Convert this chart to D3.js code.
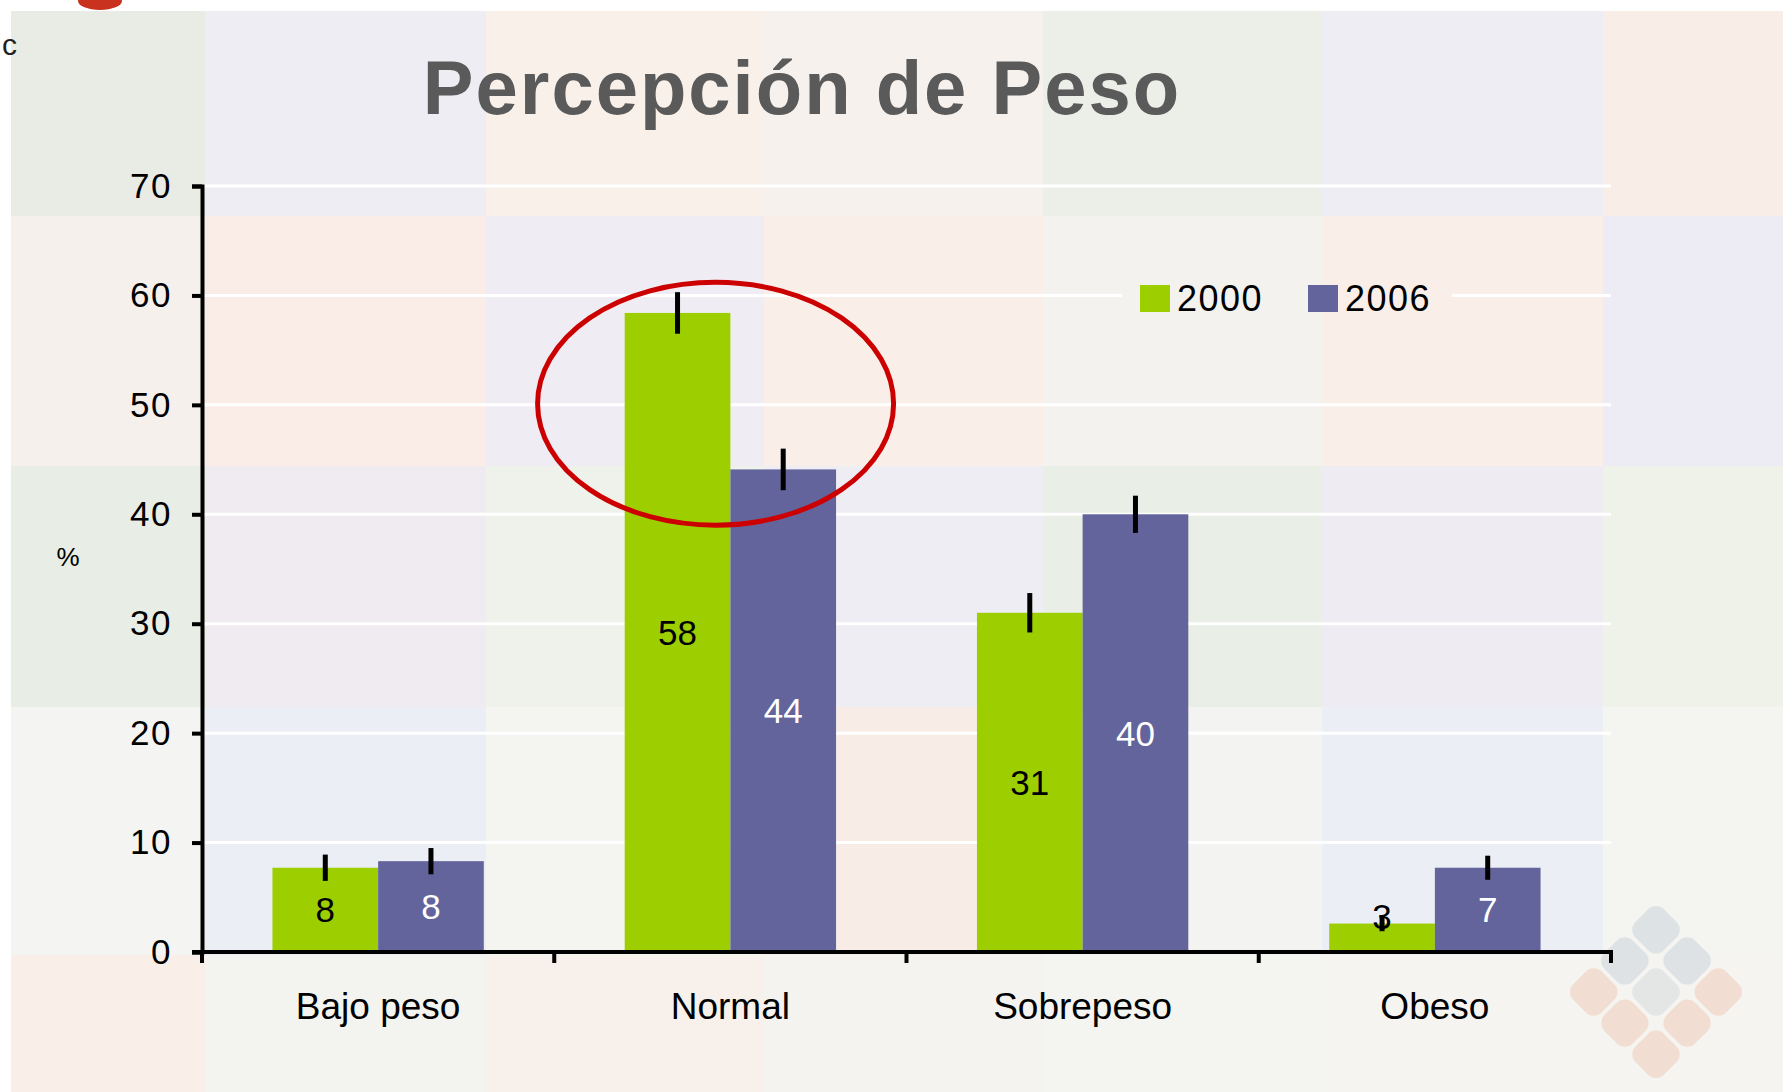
<!DOCTYPE html>
<html>
<head>
<meta charset="utf-8">
<script src="https://cdn.jsdelivr.net/npm/d3@7"></script>
<style>
  html, body { margin: 0; padding: 0; background: #ffffff; }
  svg { display: block; font-family: "Liberation Sans", Arial, sans-serif; }
</style>
</head>
<body>
<div id="chart"></div>
<script>
// data
var categories = ["Bajo peso", "Normal", "Sobrepeso", "Obeso"];
var years = ["2000", "2006"];
var values2000 = [7.7, 58.4, 31.0, 2.6];
var values2006 = [8.3, 44.1, 40.0, 7.7];
var errors2000 = [1.2, 1.9, 1.8, 0.7];
var errors2006 = [1.2, 1.9, 1.7, 1.1];
var labels2000 = ["8", "58", "31", "3"];
var labels2006 = ["8", "44", "40", "7"];
var yTicks = [0, 10, 20, 30, 40, 50, 60, 70];

// faded photo mosaic behind the slide (rows x columns)
var tileColors = [
  ["#e8ece5", "#eeedf4", "#f9f0e9", "#f6f1ec", "#ebefe8", "#eeedf4", "#f9eee7"],
  ["#f6f0ed", "#faede7", "#efedf3", "#faeee8", "#f4f2ef", "#faeee8", "#edecf4"],
  ["#e8ede5", "#f0ebf0", "#eff2ea", "#eeedf3", "#e9eee6", "#eeebf2", "#eff2e8"],
  ["#f4f4f2", "#ebeef4", "#f4f4f1", "#f8ede6", "#f3f3f1", "#ebeef4", "#f4f4f0"],
  ["#f9efe8", "#f3f3ef", "#f8f0ea", "#f4f3ef", "#f4f4f1", "#f5f4f0", "#f5f4f0"]
];

var width = 1783, height = 1092;
var plot = { left: 202, right: 1611, top: 186, bottom: 952 };

var svg = d3.select("#chart").append("svg")
  .attr("width", width)
  .attr("height", height);

// background tiles
var colEdges = [11, 205, 486, 764, 1043, 1322, 1603, 1783];
var rowEdges = [11, 216, 466, 707, 955, 1092];
tileColors.forEach(function(row, r) {
  row.forEach(function(c, k) {
    svg.append("rect")
      .attr("x", colEdges[k]).attr("y", rowEdges[r])
      .attr("width", colEdges[k + 1] - colEdges[k])
      .attr("height", rowEdges[r + 1] - rowEdges[r])
      .attr("fill", c);
  });
});

// bits of the slide template in the top-left corner
svg.append("ellipse").attr("cx", 100).attr("cy", 1).attr("rx", 22).attr("ry", 9).attr("fill", "#c8321e");
svg.append("text").attr("x", 2).attr("y", 55).attr("font-size", 30).attr("fill", "#222").text("c");

// faded logo bottom right
var logo = svg.append("g").attr("transform", "translate(1656,992) rotate(45)").attr("opacity", 0.22);
[[-1, -1, "#8fa6bf"], [0, -1, "#8fa6bf"], [-1, 0, "#8fa6bf"], [1, -1, "#e69066"], [0, 0, "#a9b8c6"],
 [-1, 1, "#e69066"], [1, 0, "#e69066"], [0, 1, "#e69066"], [1, 1, "#e69066"]].forEach(function(p) {
  logo.append("rect")
    .attr("x", p[0] * 44 - 20).attr("y", p[1] * 44 - 20)
    .attr("width", 40).attr("height", 40).attr("rx", 11)
    .attr("fill", p[2]);
});

var x = d3.scaleBand()
  .domain(categories)
  .range([plot.left, plot.right])
  .paddingInner(0.4)
  .paddingOuter(0.2);

var x1 = d3.scaleBand()
  .domain(years)
  .range([0, x.bandwidth()]);

var y = d3.scaleLinear()
  .domain([0, 70])
  .range([plot.bottom, plot.top]);

var color = d3.scaleOrdinal().domain(years).range(["#9dcf00", "#64649c"]);

// white gridlines
svg.append("g").selectAll("line")
  .data(yTicks.slice(1))
  .enter().append("line")
  .attr("x1", plot.left).attr("x2", plot.right)
  .attr("y1", function(d) { return y(d); })
  .attr("y2", function(d) { return y(d); })
  .attr("stroke", "#ffffff")
  .attr("stroke-width", 3);

// legend box hides the gridline behind it (painted like the tiles under it)
svg.append("rect")
  .attr("x", 1122).attr("y", 280).attr("width", colEdges[5] - 1122).attr("height", 36)
  .attr("fill", tileColors[1][4]);
svg.append("rect")
  .attr("x", colEdges[5]).attr("y", 280).attr("width", 1452 - colEdges[5]).attr("height", 36)
  .attr("fill", tileColors[1][5]);

var series = [
  { year: "2000", values: values2000, errors: errors2000, labels: labels2000, text: "#000" },
  { year: "2006", values: values2006, errors: errors2006, labels: labels2006, text: "#fff" }
];

var rows = [];
series.forEach(function(s) {
  categories.forEach(function(c, i) {
    rows.push({ cat: c, year: s.year, v: s.values[i], e: s.errors[i], label: s.labels[i], text: s.text });
  });
});

function barX(d) { return x(d.cat) + x1(d.year); }
function barMid(d) { return barX(d) + x1.bandwidth() / 2; }

svg.append("g").selectAll("rect")
  .data(rows)
  .enter().append("rect")
  .attr("x", barX)
  .attr("y", function(d) { return y(d.v); })
  .attr("width", x1.bandwidth())
  .attr("height", function(d) { return y(0) - y(d.v); })
  .attr("fill", function(d) { return color(d.year); });

// value labels, centred in the bar
svg.append("g").selectAll("text")
  .data(rows)
  .enter().append("text")
  .attr("x", barMid)
  .attr("y", function(d) { return Math.min((y(d.v) + y(0)) / 2, y(0) - 36); })
  .attr("text-anchor", "middle")
  .attr("dominant-baseline", "central")
  .attr("font-size", 35)
  .attr("fill", function(d) { return d.text; })
  .text(function(d) { return d.label; });

// error bars
svg.append("g").selectAll("line")
  .data(rows)
  .enter().append("line")
  .attr("x1", barMid).attr("x2", barMid)
  .attr("y1", function(d) { return y(d.v - d.e); })
  .attr("y2", function(d) { return y(d.v + d.e); })
  .attr("stroke", "#000")
  .attr("stroke-width", 5);

// y axis
var yAxis = svg.append("g")
  .attr("transform", "translate(" + plot.left + ",0)")
  .call(d3.axisLeft(y).tickValues(yTicks).tickSize(10).tickPadding(20));
yAxis.select(".domain").attr("stroke", "#000").attr("stroke-width", 4);
yAxis.selectAll(".tick line").attr("stroke", "#000").attr("stroke-width", 4);
yAxis.selectAll(".tick text")
  .attr("font-size", 35).attr("fill", "#000")
  .attr("letter-spacing", 1.5)
  .attr("font-family", "'Liberation Sans', Arial, sans-serif");

// x axis with ticks between categories
var boundaries = categories.map(function(c) { return x(c) - x.step() * x.paddingInner() / 2; });
boundaries[0] = plot.left;
boundaries.push(plot.right);

svg.append("line")
  .attr("x1", plot.left - 10).attr("x2", plot.right + 2)
  .attr("y1", y(0)).attr("y2", y(0))
  .attr("stroke", "#000").attr("stroke-width", 4);

svg.append("g").selectAll("line")
  .data(boundaries)
  .enter().append("line")
  .attr("x1", function(d) { return d; }).attr("x2", function(d) { return d; })
  .attr("y1", y(0)).attr("y2", y(0) + 11)
  .attr("stroke", "#000").attr("stroke-width", 4);

svg.append("g").selectAll("text")
  .data(categories)
  .enter().append("text")
  .attr("x", function(d) { return x(d) + x.bandwidth() / 2; })
  .attr("y", 1019)
  .attr("text-anchor", "middle")
  .attr("font-size", 37)
  .attr("fill", "#000")
  .text(function(d) { return d; });

// axis title
svg.append("text")
  .attr("x", 68).attr("y", 566)
  .attr("text-anchor", "middle")
  .attr("font-size", 26)
  .attr("fill", "#000")
  .text("%");

// legend
var legend = svg.append("g").selectAll("g")
  .data(years)
  .enter().append("g")
  .attr("transform", function(d, i) { return "translate(" + (1140 + i * 168) + ",285)"; });
legend.append("rect")
  .attr("width", 30).attr("height", 27)
  .attr("fill", function(d) { return color(d); });
legend.append("text")
  .attr("x", 37).attr("y", 26)
  .attr("font-size", 36)
  .attr("letter-spacing", 1.5)
  .attr("fill", "#000")
  .text(function(d) { return d; });

// red highlight around "Normal"
svg.append("ellipse")
  .attr("cx", x("Normal") + x.bandwidth() * 0.43)
  .attr("cy", y(50.1))
  .attr("rx", 178)
  .attr("ry", y(39) - y(50.1))
  .attr("fill", "none")
  .attr("stroke", "#cc0000")
  .attr("stroke-width", 5);

// title
svg.append("text")
  .attr("x", 802).attr("y", 114)
  .attr("text-anchor", "middle")
  .attr("font-size", 76)
  .attr("font-weight", "bold")
  .attr("letter-spacing", 2)
  .attr("fill", "#5a5a5a")
  .text("Percepción de Peso");
</script>
</body>
</html>
